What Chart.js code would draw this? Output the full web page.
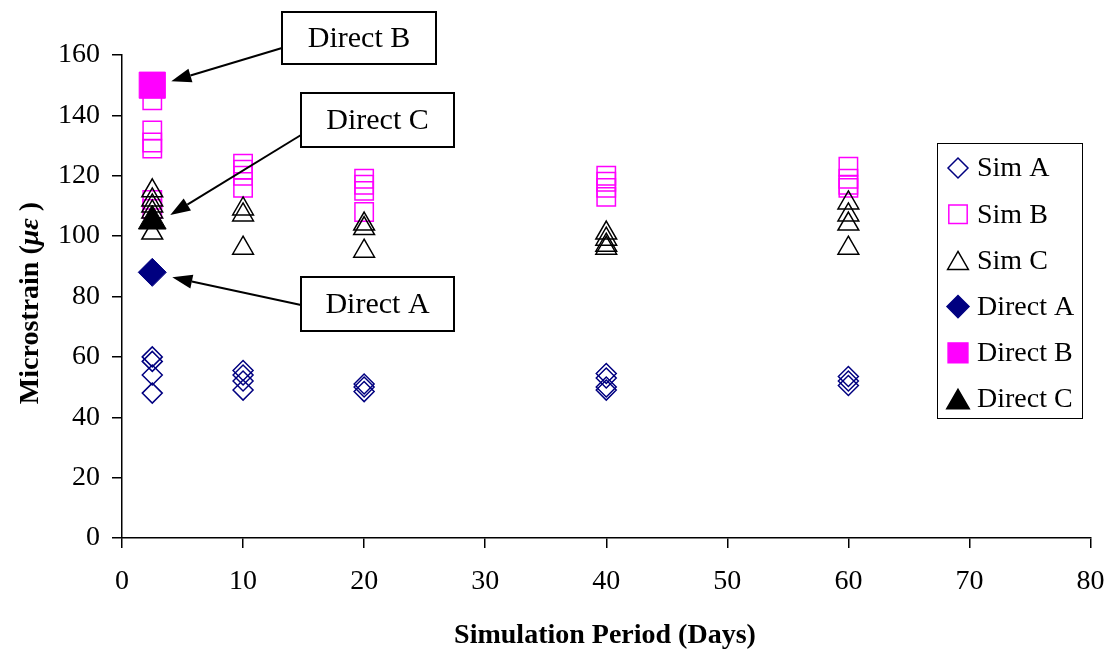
<!DOCTYPE html>
<html>
<head>
<meta charset="utf-8">
<script src="https://cdn.jsdelivr.net/npm/chart.js@4.4.0/dist/chart.umd.min.js"></script>
<style>
html, body { margin: 0; padding: 0; background: #fff; }
</style>
</head>
<body>
<canvas id="chart" width="1110" height="656"></canvas>
<script>
// simulation days and the values read at each day
const days = [2.5, 10, 20, 40, 60];
const simA = [[60, 58.5, 54, 48], [55.5, 54, 52, 49], [51, 50, 48.5], [54.5, 53, 50, 49], [53.5, 52, 50.5]];
const simB = [[145, 135, 131, 129, 112, 109], [124, 122, 120, 116], [119, 117, 115, 108], [120, 118, 116, 113], [123, 119, 117, 116]];
const simC = [[115, 112, 110, 108, 101], [109, 107, 96], [104, 102.5, 95], [101, 99, 97, 96], [111, 107, 104, 96]];
const directDay = [2.5];
const directA = [88];
const directB = [150];
const directC = [105];
const xTicks = [0, 10, 20, 30, 40, 50, 60, 70, 80];
const yTicks = [0, 20, 40, 60, 80, 100, 120, 140, 160];

const FONT = "'Liberation Serif', 'Times New Roman', serif";
const NAVY = '#000080', PINK = '#ff00ff', BLACK = '#000000';

function pts(groups) {
    let out = [];
    groups.forEach((g, i) => g.forEach(v => out.push({x: days[i], y: v})));
    return out;
}
function direct(vals) {
    return vals.map((v, i) => ({x: directDay[i], y: v}));
}

const legendItems = [
    {text: 'Sim A', style: 'rectRot', r: 10, color: NAVY, fill: false},
    {text: 'Sim B', style: 'rect', r: 13, color: PINK, fill: false},
    {text: 'Sim C', style: 'triangle', r: 12, color: BLACK, fill: false},
    {text: 'Direct A', style: 'rectRot', r: 11, color: NAVY, fill: true},
    {text: 'Direct B', style: 'rect', r: 14, color: PINK, fill: true},
    {text: 'Direct C', style: 'triangle', r: 13, color: BLACK, fill: true}
];

function arrow(ctx, x1, y1, x2, y2) {
    const a = Math.atan2(y2 - y1, x2 - x1);
    const hl = 20, hw = 7;
    const bx = x2 - Math.cos(a) * hl, by = y2 - Math.sin(a) * hl;
    ctx.beginPath();
    ctx.moveTo(x1, y1);
    ctx.lineTo(bx, by);
    ctx.lineWidth = 2;
    ctx.strokeStyle = '#000';
    ctx.stroke();
    ctx.beginPath();
    ctx.moveTo(x2, y2);
    ctx.lineTo(bx + Math.sin(a) * hw, by - Math.cos(a) * hw);
    ctx.lineTo(bx - Math.sin(a) * hw, by + Math.cos(a) * hw);
    ctx.closePath();
    ctx.fillStyle = '#000';
    ctx.fill();
}

function box(ctx, x, y, w, h, text) {
    ctx.fillStyle = '#fff';
    ctx.fillRect(x, y, w, h);
    ctx.lineWidth = 2;
    ctx.strokeStyle = '#000';
    ctx.strokeRect(x, y, w, h);
    ctx.fillStyle = '#000';
    ctx.font = '30px ' + FONT;
    ctx.textAlign = 'center';
    ctx.textBaseline = 'middle';
    ctx.fillText(text, x + w / 2, y + h / 2 + 1);
}

const extras = {
    id: 'extras',
    afterDraw(chart) {
        const ctx = chart.ctx;
        const xs = chart.scales.x, ys = chart.scales.y;
        ctx.save();

        // arrows and labels for the direct measurements
        const px = xs.getPixelForValue(directDay[0]);
        arrow(ctx, 282, 48, px + 19, ys.getPixelForValue(directB[0]) - 4);
        arrow(ctx, 301, 135, px + 18, ys.getPixelForValue(directC[0]) - 6);
        arrow(ctx, 301, 305, px + 20, ys.getPixelForValue(directA[0]) + 5);
        box(ctx, 282, 12, 154, 52, 'Direct B');
        box(ctx, 301, 93, 153, 54, 'Direct C');
        box(ctx, 301, 277, 153, 54, 'Direct A');

        // legend
        ctx.fillStyle = '#fff';
        ctx.fillRect(937, 143, 145, 275);
        ctx.lineWidth = 1;
        ctx.strokeStyle = '#000';
        ctx.strokeRect(937.5, 143.5, 145, 275);
        legendItems.forEach((it, i) => {
            const y = 168 + i * 46.2;
            ctx.fillStyle = it.fill ? it.color : 'rgba(0,0,0,0)';
            ctx.strokeStyle = it.color;
            ctx.lineWidth = 1.5;
            const cy = it.style === 'triangle' ? y + it.r / 4 : y;
            Chart.helpers.drawPoint(ctx, {pointStyle: it.style, radius: it.r, rotation: 0, borderWidth: 1.5}, 958, cy);
            ctx.fillStyle = '#000';
            ctx.font = '28px ' + FONT;
            ctx.textAlign = 'left';
            ctx.textBaseline = 'middle';
            ctx.fillText(it.text, 977, y + 1);
        });

        // axis titles
        ctx.fillStyle = '#000';
        ctx.textBaseline = 'alphabetic';
        ctx.textAlign = 'center';
        ctx.font = 'bold 28px ' + FONT;
        ctx.fillText('Simulation Period (Days)', 605, 643);

        ctx.translate(38, 303);
        ctx.rotate(-Math.PI / 2);
        const parts = [['Microstrain (', 'bold 28px ' + FONT], ['\u03bc\u03b5', 'italic bold 28px ' + FONT], [' )', 'bold 28px ' + FONT]];
        let total = 0;
        parts.forEach(p => { ctx.font = p[1]; total += ctx.measureText(p[0]).width; });
        let cx = -total / 2;
        ctx.textAlign = 'left';
        parts.forEach(p => { ctx.font = p[1]; ctx.fillText(p[0], cx, 0); cx += ctx.measureText(p[0]).width; });
        ctx.restore();
    }
};

const axisCommon = {
    type: 'linear',
    grid: {drawOnChartArea: false, drawTicks: true, tickLength: 10, color: '#000', lineWidth: 1.5},
    border: {color: '#000', width: 1.5}
};

new Chart(document.getElementById('chart'), {
    type: 'scatter',
    data: {
        datasets: [
            {label: 'Sim A', data: pts(simA), pointStyle: 'rectRot', pointRadius: 10, borderColor: NAVY, backgroundColor: 'rgba(0,0,0,0)', borderWidth: 1.5, order: 6},
            {label: 'Sim B', data: pts(simB), pointStyle: 'rect', pointRadius: 13, borderColor: PINK, backgroundColor: 'rgba(0,0,0,0)', borderWidth: 1.5, order: 5},
            {label: 'Sim C', data: pts(simC), pointStyle: 'triangle', pointRadius: 12, borderColor: BLACK, backgroundColor: 'rgba(0,0,0,0)', borderWidth: 1.5, order: 4},
            {label: 'Direct A', data: direct(directA), pointStyle: 'rectRot', pointRadius: 14, borderColor: NAVY, backgroundColor: NAVY, borderWidth: 1, order: 3},
            {label: 'Direct B', data: direct(directB), pointStyle: 'rect', pointRadius: 18.5, borderColor: PINK, backgroundColor: PINK, borderWidth: 1, order: 2},
            {label: 'Direct C', data: direct(directC), pointStyle: 'triangle', pointRadius: 16, borderColor: BLACK, backgroundColor: BLACK, borderWidth: 1, order: 1}
        ]
    },
    options: {
        responsive: false,
        animation: false,
        layout: {padding: {top: 55, right: 15, left: 0, bottom: 0}},
        plugins: {legend: {display: false}, tooltip: {enabled: false}},
        scales: {
            x: Object.assign({}, axisCommon, {
                min: 0, max: 80,
                afterBuildTicks: s => { s.ticks = xTicks.map(v => ({value: v})); },
                ticks: {color: '#000', font: {family: FONT, size: 28}, padding: 17, maxRotation: 0},
                afterFit: s => { s.height = 118; s.paddingLeft = 0; s.paddingRight = 0; }
            }),
            y: Object.assign({}, axisCommon, {
                min: 0, max: 160,
                afterBuildTicks: s => { s.ticks = yTicks.map(v => ({value: v})); },
                ticks: {color: '#000', font: {family: FONT, size: 28}, padding: 12},
                afterFit: s => { s.width = 122; s.paddingTop = 0; s.paddingBottom = 0; }
            })
        }
    },
    plugins: [extras]
});
</script>
</body>
</html>
